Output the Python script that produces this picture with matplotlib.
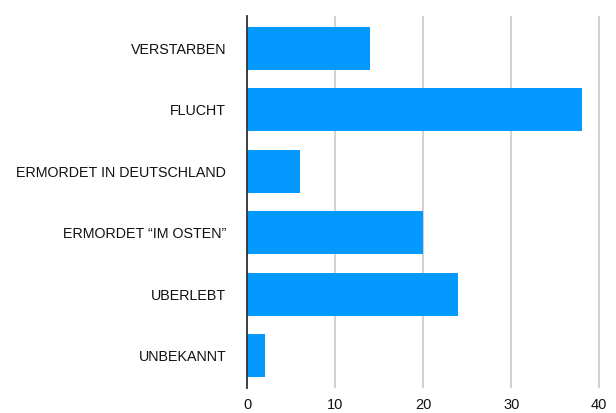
import matplotlib.pyplot as plt

# Categories (top to bottom) and counts
categories = ['VERSTARBEN', 'FLUCHT', 'ERMORDET IN DEUTSCHLAND',
              'ERMORDET \u201cIM OSTEN\u201d', 'UBERLEBT', 'UNBEKANNT']
values = [14, 38, 6, 20, 24, 2]
x_ticks = [0, 10, 20, 30, 40]

plt.rcParams['font.family'] = ['Liberation Sans', 'DejaVu Sans']

fig = plt.figure(figsize=(6.16, 4.13), dpi=100)
ax = fig.add_axes([247 / 616, 1 - 388 / 413, 354 / 616, 372 / 413])

pos = list(range(len(categories)))
ax.barh(pos, values, height=0.7, color='#0399FE', zorder=3)

ax.set_ylim(len(categories) - 0.47, -0.53)
ax.set_xlim(0, 40.2)
ax.set_yticks(pos)
ax.set_yticklabels(categories, fontsize=10.3, color='#111111')
ax.set_xticks(x_ticks)
ax.set_xticklabels([str(t) for t in x_ticks], fontsize=10.5, color='#111111')
ax.tick_params(axis='y', length=0, pad=15)
ax.tick_params(axis='x', length=0, pad=7)

ax.grid(axis='x', color='#c8c8c8', linewidth=1.2, zorder=0)
for s in ['top', 'right', 'bottom']:
    ax.spines[s].set_visible(False)
ax.spines['left'].set_color('#333333')
ax.spines['left'].set_linewidth(1.3)
ax.spines['left'].set_zorder(4)

fig.savefig('out.png', dpi=100)
